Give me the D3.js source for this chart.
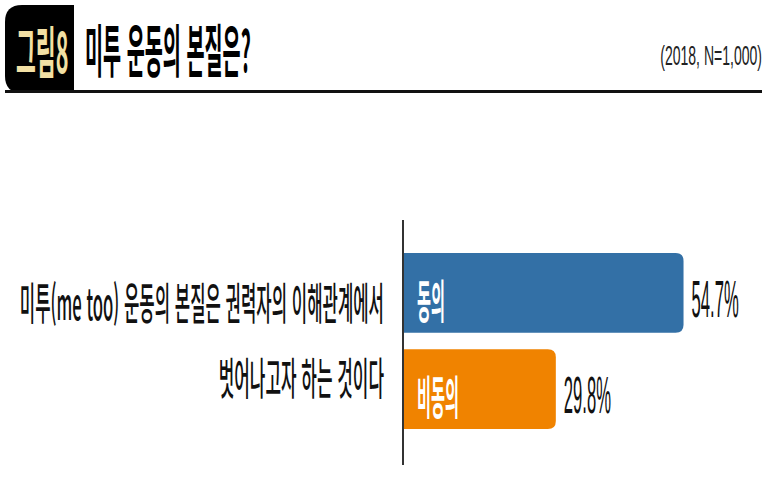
<!DOCTYPE html>
<html lang="ko">
<head>
    <meta charset="UTF-8">
    <title>미투 운동의 본질은?</title>
    <script src="https://d3js.org/d3.v7.min.js"></script>
    <style>
        body { margin: 0; background: #fff; }
        text { font-family: "Noto Sans CJK KR", "Noto Sans", sans-serif; }
        .num { font-family: "Liberation Sans", Arial, sans-serif; }
    </style>
</head>
<body>
<svg id="chart" width="773" height="498"></svg>
<script>
    // data
    const categories = ["미투(me too) 운동의 본질은 권력자의 이해관계에서|벗어나고자 하는 것이다"];
    const seriesNames = ["동의", "비동의"];
    const seriesValues = [54.7, 29.8];
    const seriesColors = ["#3370a6", "#f08300"];

    const svg = d3.select("#chart");

    // squeezed text helper (the picture is narrow horizontally)
    function sqText(x, y, str, size, sx, anchor) {
        return svg.append("text")
            .attr("transform", `translate(${x},${y}) scale(${sx},1)`)
            .attr("text-anchor", anchor || "start")
            .style("font-size", size + "px")
            .text(str);
    }

    // header tab
    svg.append("path")
        .attr("d", "M74,5 L74,93 L22,93 Q5,93 5,76 L5,22 Q5,5 22,5 Z")
        .style("fill", "#000");
    svg.append("line")
        .attr("x1", 5).attr("x2", 762)
        .attr("y1", 91.5).attr("y2", 91.5)
        .style("stroke", "#111").style("stroke-width", 3);

    sqText(16, 73, "그림8", 56, 0.385)
        .style("fill", "#f2e0a4").style("font-weight", 700);
    sqText(85, 72, "미투 운동의 본질은?", 57, 0.345)
        .style("fill", "#000").style("font-weight", 700);
    sqText(762, 65, "(2018, N=1,000)", 27, 0.52, "end")
        .attr("class", "num").style("fill", "#222");

    // scales
    const x = d3.scaleLinear().domain([0, 70]).range([403, 762]);
    const y0 = d3.scaleBand().domain(categories).range([253, 429]);
    const y1 = d3.scaleBand().domain(seriesNames).range([0, y0.bandwidth()]).paddingInner(0.17);

    // axis line
    svg.append("line")
        .attr("x1", x(0)).attr("x2", x(0))
        .attr("y1", 220).attr("y2", 465)
        .style("stroke", "#333").style("stroke-width", 2);

    // category label (two lines, right aligned)
    categories.forEach(function (c) {
        const lines = c.split("|");
        const mid = y0(c) + y0.bandwidth() / 2;
        sqText(384, mid - 21, lines[0], 44, 0.38, "end").style("fill", "#111").style("font-weight", 500);
        sqText(384, mid + 54, lines[1], 44, 0.385, "end").style("fill", "#111").style("font-weight", 500);
    });

    // bars with rounded right end
    const r = 8;
    seriesNames.forEach(function (s, i) {
        const c = categories[0];
        const top = y0(c) + y1(s);
        const h = y1.bandwidth();
        const x0 = x(0) + 1;
        const x1 = x(seriesValues[i]);
        svg.append("path")
            .attr("d", `M${x0},${top} L${x1 - r},${top} Q${x1},${top} ${x1},${top + r} L${x1},${top + h - r} Q${x1},${top + h} ${x1 - r},${top + h} L${x0},${top + h} Z`)
            .style("fill", seriesColors[i]);

        const mid = top + h / 2;
        sqText(417, mid + 25, s, 46, 0.33).style("fill", "#fff").style("font-weight", 700);
        sqText(x1 + 8, mid + 24, seriesValues[i].toFixed(1) + "%", 52, 0.32)
            .attr("class", "num").style("fill", "#111");
    });
</script>
</body>
</html>
